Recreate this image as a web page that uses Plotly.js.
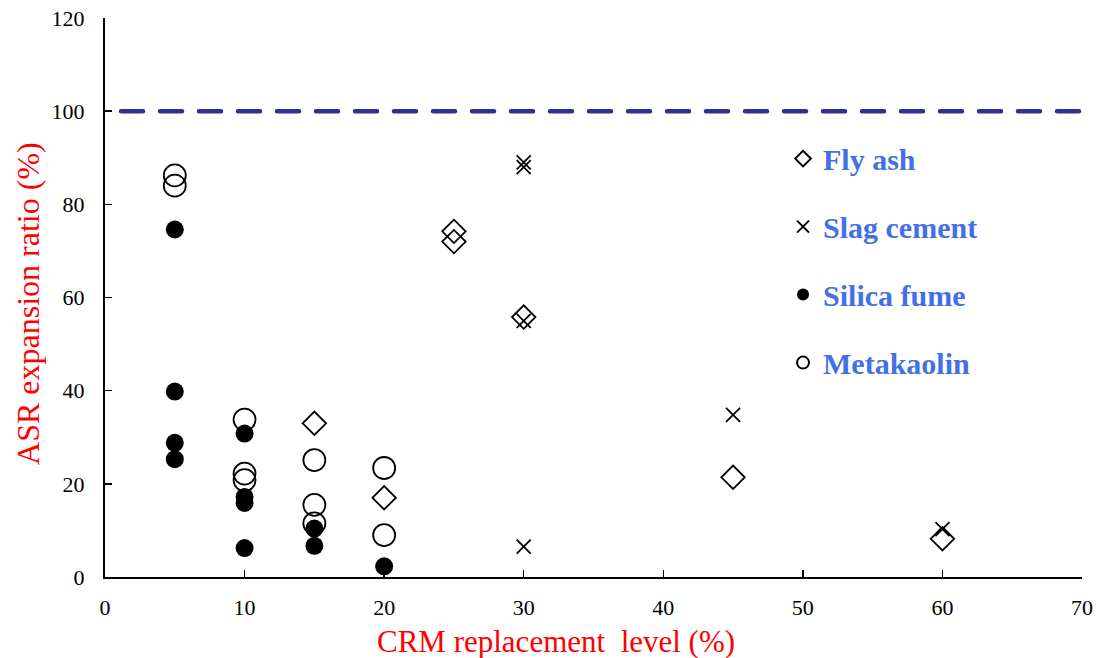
<!DOCTYPE html>
<html>
<head>
<meta charset="utf-8">
<script src="https://cdn.plot.ly/plotly-3.0.1.min.js"></script>
<style>html,body{margin:0;padding:0;background:#fff;}#chart{width:1097px;height:658px;}</style>
</head>
<body>
<div id="chart"></div>
<script>
// ---- data ----
const seriesNames = ["Fly ash", "Slag cement", "Silica fume", "Metakaolin"];
const flyAshX = [15, 20, 25, 25, 30, 45, 60];
const flyAshY = [33.0, 17.0, 74.2, 72.0, 55.8, 21.4, 8.2];
const slagX = [30, 30, 30, 30, 45, 60];
const slagY = [89.0, 88.0, 55.0, 6.5, 34.8, 10.3];
const silicaX = [5, 5, 5, 5, 10, 10, 10, 10, 15, 15, 20];
const silicaY = [74.6, 39.8, 28.8, 25.3, 30.8, 17.2, 15.9, 6.2, 10.4, 6.7, 2.3];
const metaX = [5, 5, 10, 10, 10, 15, 15, 15, 20, 20];
const metaY = [86.2, 84.0, 33.8, 22.2, 20.8, 25.1, 15.5, 11.5, 23.4, 9.0];
const referenceLevel = 100;
const xTicks = [0, 10, 20, 30, 40, 50, 60, 70];
const yTicks = [0, 20, 40, 60, 80, 100, 120];
const xTitle = "CRM replacement  level (%)";
const yTitle = "ASR expansion ratio (%)";

const serif = "Times New Roman, Liberation Serif, serif";

const traces = [
  {x: flyAshX, y: flyAshY, name: seriesNames[0], legendgroup: "a", type: "scatter", mode: "markers",
   marker: {symbol: "diamond-open", size: 18, color: "#000", line: {color: "#000", width: 1.8}}},
  {x: slagX, y: slagY, name: seriesNames[1], legendgroup: "b", type: "scatter", mode: "markers",
   marker: {symbol: "x-thin-open", size: 14, color: "#000", line: {color: "#000", width: 1.8}}},
  {x: silicaX, y: silicaY, name: seriesNames[2], legendgroup: "c", type: "scatter", mode: "markers",
   marker: {symbol: "circle", size: 18, color: "#000", line: {width: 0}}},
  {x: metaX, y: metaY, name: seriesNames[3], legendgroup: "d", type: "scatter", mode: "markers",
   marker: {symbol: "circle-open", size: 22, color: "#000", line: {color: "#000", width: 1.8}}}
];

const layout = {
  width: 1097, height: 658,
  margin: {l: 105, r: 15, t: 18, b: 81},
  paper_bgcolor: "#fff", plot_bgcolor: "#fff",
  font: {family: serif, color: "#000", size: 22},
  showlegend: true,
  legend: {
    x: 0.694, y: 0.795, xanchor: "left", yanchor: "top",
    bgcolor: "rgba(0,0,0,0)",
    font: {family: serif, size: 30, color: "#4170E8", weight: "bold"},
    itemsizing: "constant",
    tracegroupgap: 26
  },
  xaxis: {
    range: [0, 70], tickvals: xTicks, ticks: "inside", ticklen: 7, tickwidth: 1.5, tickcolor: "#000",
    showline: true, linecolor: "#000", linewidth: 2, showgrid: false, zeroline: false,
    tickfont: {family: serif, size: 22, color: "#000"}, ticklabelstandoff: 10, fixedrange: true
  },
  yaxis: {
    range: [0, 120], tickvals: yTicks, ticks: "inside", ticklen: 7, tickwidth: 1.5, tickcolor: "#000",
    showline: true, linecolor: "#000", linewidth: 2, showgrid: false, zeroline: false,
    tickfont: {family: serif, size: 22, color: "#000"}, ticklabelstandoff: 14, fixedrange: true
  },
  shapes: [{
    type: "line", xref: "paper", yref: "y", x0: 0.0164, x1: 1, y0: referenceLevel, y1: referenceLevel,
    line: {color: "#2E3192", width: 4.5, dash: "22px,17px"}
  }],
  annotations: [
    {text: xTitle, xref: "paper", yref: "paper", x: (556 - 105) / 977, y: -0.115,
     xanchor: "center", yanchor: "middle", showarrow: false,
     font: {family: serif, size: 31, color: "#FF0000"}},
    {text: yTitle, xref: "paper", yref: "paper", x: -0.079, y: 0.49, textangle: -90,
     xanchor: "center", yanchor: "middle", showarrow: false,
     font: {family: serif, size: 32, color: "#FF0000"}}
  ]
};

Plotly.newPlot("chart", traces, layout, {displayModeBar: false, staticPlot: true}).then(function(gd){
  gd.querySelectorAll(".shapelayer path").forEach(function(p){ p.style.strokeLinecap = "round"; });
});
</script>
</body>
</html>
